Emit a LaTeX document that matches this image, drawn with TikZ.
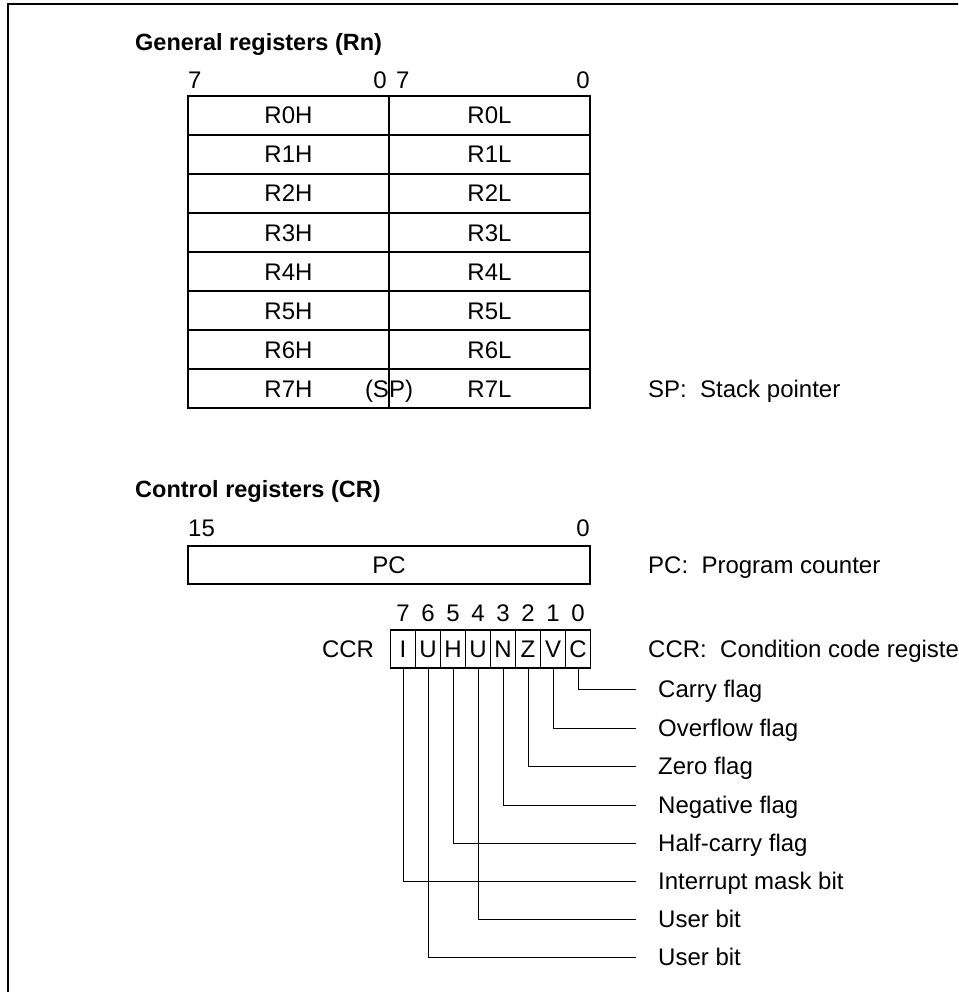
\documentclass[tikz,border=0pt]{standalone}
\usepackage{fontspec}
\setmainfont{Liberation Sans}
\begin{document}
\begin{tikzpicture}[x=1pt,y=-1pt,
  txt/.style={inner sep=0pt,text height=17pt,text depth=0pt,font=\fontsize{24}{28}\selectfont},
  ttl/.style={txt,anchor=west,font=\fontsize{23.5}{28}\selectfont\bfseries},
  half/.style={txt,draw,line width=1.2pt,minimum width=201pt,minimum height=39pt},
  bitcell/.style={txt,draw,line width=1.2pt,minimum width=25pt,minimum height=38pt},
  lbl/.style={txt,anchor=west},
  wire/.style={line width=1pt}]
\useasboundingbox (0,0) rectangle (958,992);
\clip (0,0) rectangle (958,992);
\draw[line width=2pt] (8,1000) -- (8,4) -- (1000,4);
% General registers
\node[ttl] (t1) at (135,42) {General registers (Rn)};
\node[txt,anchor=west] (h7) at (188,80) {7};
\node[txt,anchor=east] (h0) at (387,80) {0};
\node[txt,anchor=west] (l7) at (396,80) {7};
\node[txt,anchor=east] (l0) at (590,80) {0};
\foreach \i in {0,...,7}{
  \node[half] (rh\i) at (288.5,115.5+39*\i) {R\i H};
  \node[half] (rl\i) at (489.5,115.5+39*\i) {R\i L};
}
\node[txt] (sp) at (389,388.5) {(SP)};
\node[lbl] (splab) at (648,388.5) {SP:\ \ Stack pointer};
% Control registers
\node[ttl] (t2) at (135,489) {Control registers (CR)};
\node[txt,anchor=west] (p15) at (188,528) {15};
\node[txt,anchor=east] (p0) at (590,528) {0};
\node[txt,draw,line width=1.2pt,minimum width=402pt,minimum height=38pt] (pc) at (389,565) {PC};
\node[lbl] (pclab) at (648,565) {PC:\ \ Program counter};
\foreach \b/\t [count=\k from 0] in {7/I,6/U,5/H,4/U,3/N,2/Z,1/V,0/C}{
  \node[bitcell] (c\b) at (403+25*\k,649) {\t};
  \node[txt] (n\b) at (403+25*\k,613) {\b};
}
\node[txt] (ccr) at (348,649) {CCR};
\node[lbl] (ccrlab) at (648,649) {CCR:\ \ Condition code register};
% flag labels
\node[lbl] (f0) at (658,689) {Carry flag};
\node[lbl] (f1) at (658,728) {Overflow flag};
\node[lbl] (f2) at (658,766) {Zero flag};
\node[lbl] (f3) at (658,805) {Negative flag};
\node[lbl] (f5) at (658,843) {Half-carry flag};
\node[lbl] (f7) at (658,881) {Interrupt mask bit};
\node[lbl] (f4) at (658,919) {User bit};
\node[lbl] (f6) at (658,957) {User bit};
% connectors
\foreach \b in {0,...,7}{
  \draw[wire] (c\b.south) |- ([xshift=-22pt]f\b.west);
}
\end{tikzpicture}
\end{document}
